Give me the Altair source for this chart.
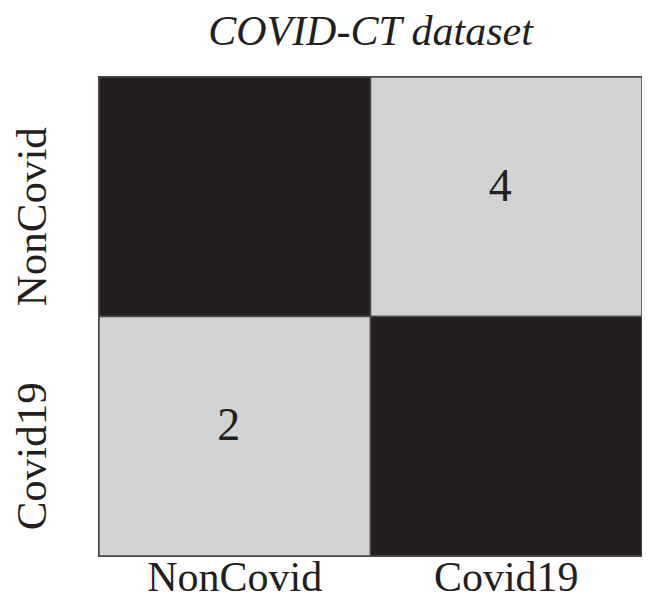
import altair as alt
import pandas as pd

actual = ["NonCovid", "NonCovid", "Covid19", "Covid19"]
predicted = ["NonCovid", "Covid19", "NonCovid", "Covid19"]
correct = [True, False, False, True]
labels = ["", "4", "2", ""]

order = ["NonCovid", "Covid19"]
df = pd.DataFrame({"actual": actual, "predicted": predicted, "correct": correct, "label": labels})

FONT = "Liberation Serif"

base = alt.Chart(df).encode(
    x=alt.X("predicted:N", sort=order, title=None,
            axis=alt.Axis(labelAngle=0, ticks=False, domain=False, labelFontSize=42,
                          labelFont=FONT, labelColor="#231f20", labelPadding=1, labelLimit=0)),
    y=alt.Y("actual:N", sort=order, title=None,
            axis=alt.Axis(labelAngle=270, ticks=False, domain=False, labelFontSize=43,
                          labelFont=FONT, labelColor="#231f20", labelPadding=45, labelLimit=0,
                          labelOffset=20)),
)

rect = base.mark_rect(stroke="#4a4a4a", strokeWidth=1.5).encode(
    color=alt.Color("correct:N", scale=alt.Scale(domain=[True, False], range=["#231f20", "#d1d3d4"]),
                    legend=None)
)

text = base.mark_text(font=FONT, fontSize=46, color="#231f20", dy=-10, dx=-6).encode(text="label:N")

chart = (rect + text).properties(
    width=543, height=479,
    title=alt.TitleParams("COVID-CT dataset", font=FONT, fontSize=42, fontStyle="italic",
                          fontWeight="normal", color="#231f20", anchor="middle", offset=22),
    autosize=alt.AutoSizeParams(type="none"),
    padding={"left": 91, "top": 69, "right": 0, "bottom": 44},
).configure_view(stroke="#4a4a4a", strokeWidth=2).configure_scale(bandPaddingInner=0, bandPaddingOuter=0)

chart.save("out.html", embed_options={"renderer": "svg", "actions": False})
